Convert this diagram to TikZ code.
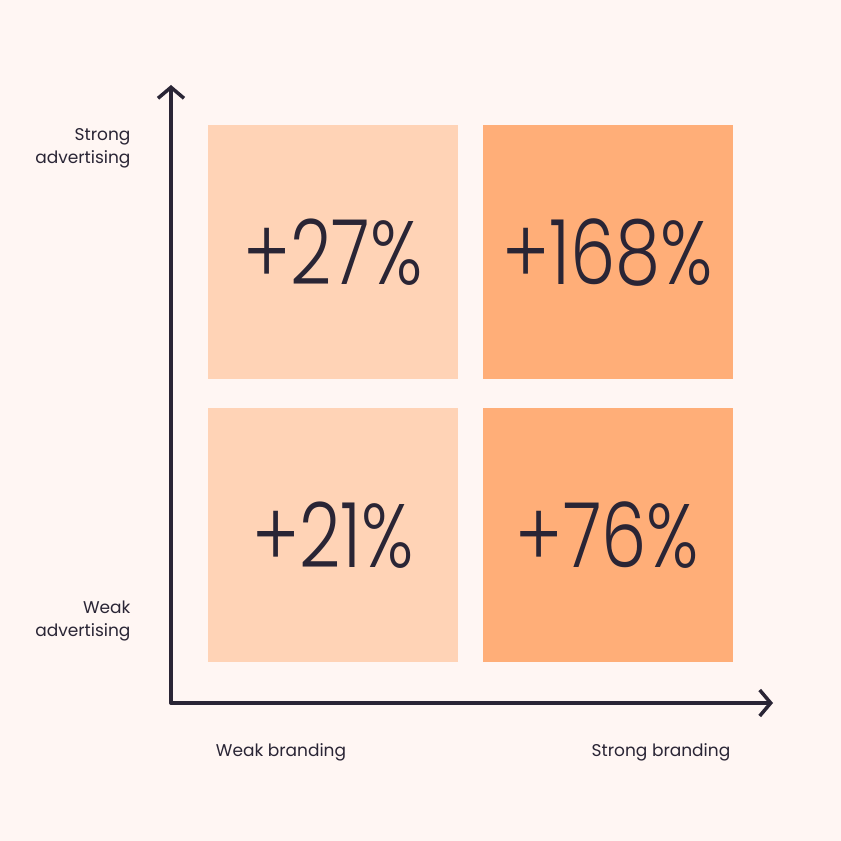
\documentclass[tikz,border=0pt]{standalone}
\usepackage{fontspec}
\setmainfont{Poppins}
\newfontfamily\numfont{Poppins Light}[FakeStretch=0.8]
\usetikzlibrary{arrows.meta}
\definecolor{bg}{HTML}{FFF6F3}
\definecolor{light}{HTML}{FFD3B6}
\definecolor{dark}{HTML}{FFAE78}
\definecolor{ink}{HTML}{2A2535}
\tikzset{
  cell/.style={minimum width=250pt,minimum height=254pt,inner sep=0pt},
  num/.style={font=\numfont\fontsize{90}{90}\selectfont,text=ink},
  lab/.style={font=\fontsize{17}{23}\selectfont,text=ink},
  axis/.style={ink,line width=3.5pt,line cap=round,line join=round,
    -{Straight Barb[length=11pt,width=26pt,line width=3.5pt]}}
}
\begin{document}
\begin{tikzpicture}[x=1pt,y=1pt]
    \fill[bg] (0,0) rectangle (841,841);
    \useasboundingbox (0,0) rectangle (841,841);
    \node[cell,fill=light] (tl) at (333,588.5) {};
    \node[cell,fill=dark] (tr) at (607.5,588.5) {};
    \node[cell,fill=light] (bl) at (333,306) {};
    \node[cell,fill=dark] (br) at (607.5,306) {};
    \node[num] (ntl) at (tl) {+27\%};
    \node[num] (ntr) at (tr) {+168\%};
    \node[num] (nbl) at (bl) {+21\%};
    \node[num] (nbr) at (br) {+76\%};
    \coordinate (o) at (171,138);
    \coordinate (ytop) at (171,756);
    \coordinate (xend) at (773,138);
    \draw[axis] (o) -- (ytop);
    \draw[axis] (o) -- (xend);
    \node[lab,align=right,anchor=east] (sa) at (134,693) {Strong\\advertising};
    \node[lab,align=right,anchor=east] (wa) at (134,220) {Weak\\advertising};
    \node[lab] (wb) at (281,89) {Weak branding};
    \node[lab] (sb) at (661,89) {Strong branding};
\end{tikzpicture}
\end{document}
